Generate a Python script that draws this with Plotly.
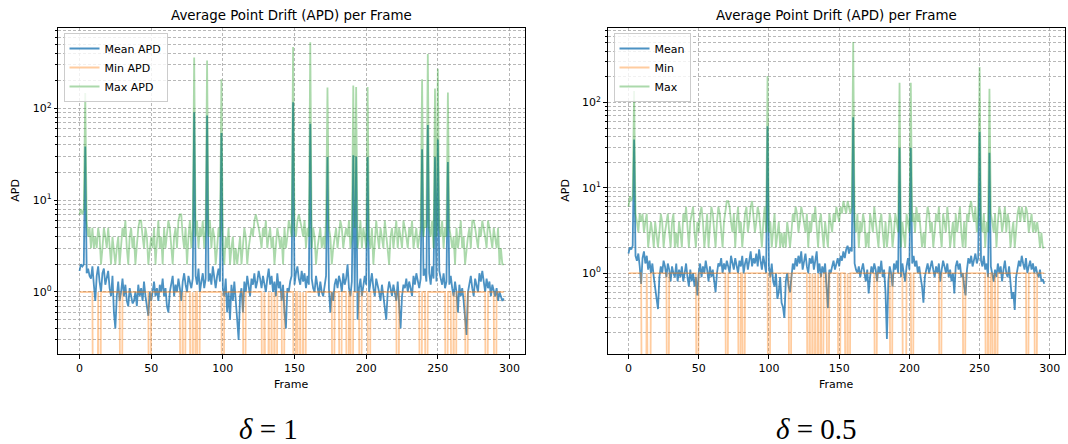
import math
import plotly.graph_objects as go

# ---------------- data ----------------
frames = list(range(297))

# delta = 1
L_mean = [
    1.7, 2.0, 1.9, 2.0, 38.5, 1.6, 1.8, 1.5, 1.4, 1.9,
    1.2, 0.8, 1.5, 1.9, 1.3, 1.0, 1.6, 1.8, 1.2, 1.4,
    1.7, 1.1, 0.9, 1.5, 0.6, 0.4, 0.9, 1.3, 0.8, 1.0,
    1.4, 0.9, 1.2, 0.8, 0.7, 1.1, 0.9, 0.75, 0.8, 1.0,
    0.7, 1.2, 0.9, 1.1, 0.8, 1.3, 0.9, 0.7, 0.55, 1.0,
    0.8, 1.0, 1.3, 0.9, 1.1, 0.8, 1.2, 1.0, 1.4, 0.9,
    1.1, 0.7, 0.6, 1.0, 1.3, 1.5, 0.9, 1.2, 1.0, 1.4,
    1.1, 0.8, 1.3, 1.6, 1.2, 1.0, 1.5, 1.3, 1.1, 1.4,
    91, 1.5, 1.2, 1.8, 1.0, 1.3, 1.6, 1.1, 1.4, 84,
    1.3, 1.6, 1.2, 1.9, 1.4, 1.1, 1.5, 1.8, 1.3, 54,
    1.1, 0.9, 1.4, 0.6, 1.0, 0.5, 1.2, 0.8, 1.3, 0.7,
    0.5, 0.3, 0.9, 1.1, 0.6, 1.3, 1.0, 1.5, 1.2, 0.9,
    1.4, 1.2, 1.6, 1.1, 1.3, 1.7, 1.4, 1.1, 1.5, 1.2,
    1.0, 1.4, 1.8, 1.2, 1.5, 1.0, 1.3, 0.9, 1.6, 1.1,
    1.3, 0.8, 1.2, 0.6, 0.4, 1.1, 1.0, 1.3, 1.5, 117,
    1.2, 1.6, 1.9, 1.4, 1.2, 1.7, 1.3, 1.6, 1.1, 1.5,
    1.2, 68, 1.4, 1.1, 1.0, 1.5, 1.2, 0.9, 1.3, 1.0,
    0.9, 1.2, 1.5, 29.5, 1.1, 0.6, 1.0, 0.8, 1.2, 1.4,
    1.1, 1.5, 1.3, 1.0, 1.6, 1.2, 1.4, 2.0, 1.1, 0.9,
    1.3, 30.8, 1.0, 30, 0.5, 1.1, 1.4, 0.9, 1.2, 1.5,
    1.2, 29.6, 1.0, 1.3, 1.6, 1.1, 0.9, 1.4, 1.2, 1.0,
    0.8, 1.2, 0.9, 0.7, 0.5, 1.0, 1.3, 1.1, 0.9, 1.2,
    1.0, 0.8, 1.3, 0.6, 0.4, 0.9, 1.2, 1.1, 1.4, 1.0,
    1.3, 1.1, 0.9, 1.5, 1.2, 1.6, 1.3, 1.1, 1.4, 36,
    1.5, 1.8, 1.3, 66, 1.6, 1.2, 1.9, 1.4, 29.5, 1.3,
    46, 1.7, 1.4, 1.2, 1.6, 1.1, 1.3, 26, 1.2, 1.5,
    1.1, 0.9, 1.3, 1.0, 0.6, 1.2, 0.9, 1.1, 0.8, 0.5,
    0.34, 1.0, 1.3, 1.5, 1.1, 0.9, 1.4, 1.2, 1.0, 1.6,
    1.3, 1.7, 1.2, 1.0, 1.4, 1.1, 1.3, 0.9, 1.2, 1.0,
    0.9, 1.1, 0.8, 1.0, 0.9, 0.8, 0.85,
]
L_max = [
    7, 8, 7, 8, 147, 6, 4, 5, 3, 5,
    3, 4, 3, 5, 4, 2, 3, 5, 4, 3,
    5, 3, 2, 4, 3, 2, 3, 4, 2, 3,
    5, 4, 6, 3, 2, 4, 5, 3, 4, 2,
    3, 5, 6, 6, 4, 3, 5, 4, 2, 3,
    4, 3, 5, 2, 4, 6, 3, 4, 2, 5,
    3, 4, 6, 5, 3, 2, 4, 5, 3, 6,
    7, 7, 4, 3, 5, 2, 4, 6, 3, 5,
    359, 4, 6, 3, 5, 4, 6, 3, 5, 333,
    4, 6, 3, 5, 4, 2, 3, 5, 4, 208,
    3, 2, 4, 3, 5, 2, 3, 4, 2, 3,
    2, 3, 4, 2, 3, 5, 4, 2, 3, 4,
    5, 4, 6, 7, 6, 5, 4, 3, 5, 4,
    6, 3, 4, 5, 3, 4, 2, 3, 5, 4,
    3, 4, 2, 5, 3, 4, 6, 5, 4, 466,
    5, 4, 6, 7, 6, 5, 4, 6, 3, 5,
    4, 527, 3, 5, 4, 2, 3, 4, 5, 3,
    4, 3, 6, 169, 5, 4, 2, 3, 4, 5,
    3, 4, 6, 5, 3, 4, 5, 4, 6, 3,
    4, 178, 5, 171, 3, 4, 6, 3, 5, 4,
    3, 171, 4, 3, 5, 2, 4, 6, 4, 3,
    5, 4, 3, 6, 4, 3, 2, 4, 5, 3,
    4, 6, 3, 5, 4, 3, 6, 5, 4, 3,
    5, 4, 6, 3, 4, 5, 3, 4, 5, 208,
    4, 6, 5, 393, 5, 4, 6, 3, 165, 4,
    270, 5, 4, 6, 3, 5, 4, 149, 5, 4,
    3, 4, 2, 5, 3, 4, 6, 3, 4, 2,
    3, 4, 5, 3, 6, 6, 5, 4, 3, 5,
    4, 6, 5, 4, 3, 6, 5, 4, 3, 5,
    4, 3, 5, 2, 3, 2, 2,
]
# Min APD is 1 except at these frames, where it is 0
L_min_zero_frames = [10, 11, 12, 14, 29, 49, 71, 73, 78, 80, 83, 100, 115, 128, 130, 131,
                     133, 135, 137, 142, 150, 153, 155, 157, 177, 182, 187, 190, 196, 202,
                     222, 238, 242, 256, 260, 262, 270, 284, 290]

# delta = 0.5
R_mean = [
    1.7, 2.0, 1.9, 2.1, 36.8, 1.6, 1.4, 1.7, 1.2, 0.75,
    1.5, 1.8, 1.3, 1.6, 1.1, 1.4, 1.0, 1.3, 0.9, 0.7,
    0.5, 0.38, 0.9, 1.2, 1.0, 1.4, 1.2, 0.9, 1.3, 1.1,
    0.8, 1.2, 1.0, 0.9, 1.3, 0.8, 1.1, 0.9, 1.2, 0.8,
    1.0, 1.3, 0.9, 0.7, 1.1, 0.8, 1.0, 0.7, 0.9, 0.55,
    1.0, 1.3, 0.9, 1.2, 1.0, 1.4, 1.1, 0.8, 1.2, 0.9,
    1.1, 0.8, 0.6, 1.0, 1.3, 1.2, 1.5, 1.0, 1.3, 1.1,
    1.4, 1.2, 1.0, 1.6, 1.3, 1.1, 1.5, 1.2, 1.0, 1.4,
    1.2, 1.6, 1.0, 1.3, 1.5, 1.1, 1.4, 1.8, 1.2, 1.5,
    1.3, 1.7, 1.2, 1.9, 1.4, 1.1, 1.6, 1.3, 1.0, 52.8,
    1.2, 0.9, 1.3, 0.8, 0.7, 1.0, 0.5, 0.6, 0.9, 0.45,
    0.4, 0.3, 0.8, 1.0, 0.7, 0.6, 1.0, 1.3, 1.1, 1.5,
    1.2, 1.6, 1.3, 1.8, 1.1, 1.4, 1.7, 1.2, 1.0, 1.5,
    1.3, 1.6, 1.1, 1.4, 1.8, 1.0, 1.3, 0.9, 1.2, 1.0,
    1.3, 0.7, 0.39, 1.1, 1.0, 1.2, 1.4, 1.1, 1.3, 1.5,
    1.2, 1.6, 1.4, 1.8, 1.5, 1.9, 2.1, 1.7, 2.0, 1.8,
    67, 1.3, 1.1, 1.0, 1.2, 0.9, 1.1, 1.3, 1.0, 0.8,
    1.1, 0.58, 0.9, 1.2, 1.0, 1.3, 1.1, 0.8, 1.2, 1.0,
    1.4, 0.9, 1.1, 0.6, 0.17, 0.8, 1.2, 1.0, 0.7, 1.3,
    1.1, 1.4, 1.0, 29.4, 0.9, 1.3, 1.0, 0.8, 1.2, 1.5,
    1.1, 29.4, 1.3, 1.6, 1.2, 1.4, 1.0, 1.2, 0.9, 0.7,
    0.45, 0.9, 1.1, 1.3, 1.0, 1.2, 1.4, 1.1, 0.9, 1.2,
    1.0, 1.3, 0.8, 1.1, 1.4, 1.2, 1.0, 1.3, 0.9, 1.1,
    0.8, 1.0, 0.58, 1.2, 1.4, 1.1, 1.3, 0.9, 1.0, 0.7,
    0.55, 1.1, 1.5, 1.3, 1.6, 1.2, 1.4, 1.7, 1.3, 1.5,
    45.4, 1.4, 1.2, 1.6, 1.1, 1.3, 0.9, 25.7, 1.2, 1.0,
    0.8, 1.1, 0.9, 1.3, 1.0, 1.2, 0.8, 1.1, 1.4, 1.0,
    0.9, 1.2, 0.7, 0.5, 0.6, 0.37, 0.9, 1.1, 1.4, 1.2,
    1.6, 1.3, 1.1, 1.5, 1.0, 1.2, 1.4, 1.1, 1.3, 1.0,
    1.2, 1.0, 0.9, 1.1, 0.8, 0.85, 0.75,
]
R_max = [
    6, 8, 7, 8, 136, 5, 4, 3, 5, 4,
    5, 3, 4, 5, 2, 3, 4, 3, 2, 4,
    3, 2, 3, 5, 4, 2, 3, 4, 5, 3,
    2, 4, 5, 2, 3, 2, 4, 3, 2, 5,
    4, 6, 3, 2, 4, 5, 6, 3, 2, 4,
    3, 5, 6, 4, 2, 3, 5, 2, 4, 6,
    5, 3, 2, 4, 6, 5, 3, 2, 4, 5,
    7, 7, 6, 4, 3, 5, 2, 4, 6, 3,
    4, 2, 3, 5, 6, 3, 4, 6, 7, 5,
    3, 4, 6, 5, 3, 2, 4, 6, 3, 204,
    3, 4, 2, 3, 5, 2, 3, 4, 2, 3,
    2, 3, 2, 4, 3, 2, 3, 5, 4, 6,
    5, 3, 4, 6, 5, 4, 3, 5, 2, 4,
    3, 5, 4, 6, 3, 2, 4, 5, 3, 2,
    4, 3, 2, 5, 4, 3, 5, 4, 6, 5,
    4, 6, 5, 7, 6, 5, 7, 6, 5, 6,
    511, 4, 3, 5, 2, 4, 3, 5, 4, 2,
    3, 2, 5, 4, 3, 6, 4, 3, 2, 4,
    5, 3, 2, 4, 2, 3, 5, 4, 2, 3,
    5, 4, 3, 170, 2, 4, 3, 2, 5, 4,
    3, 170, 4, 5, 3, 6, 4, 5, 3, 2,
    3, 2, 4, 6, 5, 3, 4, 2, 3, 5,
    4, 6, 3, 2, 5, 4, 3, 6, 4, 2,
    3, 4, 2, 5, 3, 4, 6, 3, 2, 4,
    2, 5, 4, 6, 7, 5, 4, 6, 3, 5,
    260, 4, 3, 5, 2, 4, 3, 145, 5, 4,
    3, 5, 2, 4, 6, 5, 3, 4, 6, 3,
    5, 4, 2, 3, 4, 2, 3, 5, 6, 4,
    6, 5, 4, 6, 5, 3, 4, 5, 3, 4,
    3, 4, 3, 2, 3, 2, 2,
]
R_min_zero_frames = [10, 11, 12, 14, 15, 28, 49, 70, 79, 82, 100, 115, 128, 130, 132, 134,
                     136, 138, 142, 150, 155, 157, 176, 187, 196, 197, 202, 222, 239, 255,
                     257, 260, 262, 284, 290]

x_ticks = [0, 50, 100, 150, 200, 250, 300]
titles = ["Average Point Drift (APD) per Frame", "Average Point Drift (APD) per Frame"]
names_left = ["Mean APD", "Min APD", "Max APD"]
names_right = ["Mean", "Min", "Max"]
captions = ["<i>δ</i> = 1", "<i>δ</i> = 0.5"]


def min_series(zero_frames):
    return [0 if f in zero_frames else 1 for f in frames]


L_min = min_series(L_min_zero_frames)
R_min = min_series(R_min_zero_frames)

# ---------------- figure ----------------
W, H = 1068, 444
FONT = "DejaVu Sans"
C_MEAN = "rgba(31,119,180,0.8)"
C_MIN = "rgba(255,127,14,0.4)"
C_MAX = "rgba(44,160,44,0.4)"
GRID = "rgba(160,160,160,0.75)"

fig = go.Figure()


def plotable(vals):
    # zeros cannot be shown on a log axis: send them far below the visible range
    return [v if v > 0 else 1e-4 for v in vals]


def add_panel(xa, ya, legend, mean, mn, mx, names):
    for vals, name, col, w in ((mean, names[0], C_MEAN, 1.8),
                               (mn, names[1], C_MIN, 1.8),
                               (mx, names[2], C_MAX, 1.8)):
        fig.add_trace(go.Scatter(
            x=frames, y=plotable(vals), mode="lines", name=name,
            line=dict(color=col, width=w), xaxis=xa, yaxis=ya,
            legend=legend, hoverinfo="skip"))


add_panel("x", "y", "legend", L_mean, L_min, L_max, names_left)
add_panel("x2", "y2", "legend2", R_mean, R_min, R_max, names_right)

ydom = [(H - 354) / H, (H - 27.5) / H]
dom_l = [58.3 / W, 525 / W]
dom_r = [607.7 / W, 1065 / W]

major = [1, 10, 100]
major_txt = ["10<sup>0</sup>", "10<sup>1</sup>", "10<sup>2</sup>"]
minor_vals = [k * 10 ** e for e in (-1, 0, 1, 2) for k in range(2, 10)]

tickfont = dict(family=FONT, size=11, color="#000")


def xaxis(dom, anchor):
    return dict(domain=dom, anchor=anchor, range=[-14.8, 310.8], tickvals=x_ticks,
                showgrid=True, gridcolor=GRID, griddash="3px,2px", gridwidth=0.8,
                zeroline=False, showline=True, mirror=True, linecolor="#000",
                linewidth=1, ticks="outside", ticklen=3.5, tickcolor="#000",
                tickfont=tickfont, automargin=False)


def yaxis(dom, anchor, lo, hi):
    return dict(domain=dom, anchor=anchor, type="log",
                range=[math.log10(lo), math.log10(hi)],
                tickvals=major, ticktext=major_txt,
                showgrid=True, gridcolor=GRID, griddash="3px,2px", gridwidth=0.8,
                zeroline=False, showline=True, mirror=True, linecolor="#000",
                linewidth=1, ticks="outside", ticklen=3.5, tickcolor="#000",
                tickfont=tickfont, automargin=False,
                minor=dict(tickvals=minor_vals, ticks="outside", ticklen=2,
                           tickcolor="#000", showgrid=True, gridcolor=GRID,
                           griddash="3px,2px", gridwidth=0.8))


legend_common = dict(xanchor="left", yanchor="top", bgcolor="rgba(255,255,255,0.8)",
                     bordercolor="#cccccc", borderwidth=1,
                     font=dict(family=FONT, size=11, color="#000"),
                     tracegroupgap=0, itemwidth=30)

fig.update_layout(
    width=W, height=H,
    margin=dict(l=0, r=0, t=0, b=0),
    paper_bgcolor="white", plot_bgcolor="white",
    xaxis=xaxis(dom_l, "y"),
    yaxis=yaxis(ydom, "x", 0.211, 762),
    xaxis2=xaxis(dom_r, "y2"),
    yaxis2=yaxis(ydom, "x2", 0.113, 757),
    legend=dict(x=63.5 / W, y=(H - 33) / H, **legend_common),
    legend2=dict(x=613.5 / W, y=(H - 33) / H, **legend_common),
    showlegend=True,
)

annos = []
for dom, t in ((dom_l, titles[0]), (dom_r, titles[1])):
    cx = (dom[0] + dom[1]) / 2
    annos.append(dict(text=t, x=cx, y=(H - 16) / H, xref="paper", yref="paper",
                      xanchor="center", yanchor="middle", showarrow=False,
                      font=dict(family=FONT, size=13.4, color="#000")))
    annos.append(dict(text="Frame", x=cx, y=(H - 384) / H, xref="paper", yref="paper",
                      xanchor="center", yanchor="middle", showarrow=False,
                      font=dict(family=FONT, size=11, color="#000")))
for cap, cxp in ((captions[0], 268), (captions[1], 816)):
    annos.append(dict(text=cap, x=cxp / W, y=0, xref="paper", yref="paper",
                      xanchor="center", yanchor="bottom", yshift=-3, showarrow=False,
                      font=dict(family="Liberation Serif", size=29, color="#000")))
annos.append(dict(text="APD", x=16 / W, y=(ydom[0] + ydom[1]) / 2, xref="paper",
                  yref="paper", xanchor="center", yanchor="middle", showarrow=False,
                  textangle=-90, font=dict(family=FONT, size=11, color="#000")))
annos.append(dict(text="APD", x=566 / W, y=(ydom[0] + ydom[1]) / 2, xref="paper",
                  yref="paper", xanchor="center", yanchor="middle", showarrow=False,
                  textangle=-90, font=dict(family=FONT, size=11, color="#000")))
fig.update_layout(annotations=annos)

fig.write_html("out.html", config={"displayModeBar": False},
               post_script="document.body.style.margin='0';")
